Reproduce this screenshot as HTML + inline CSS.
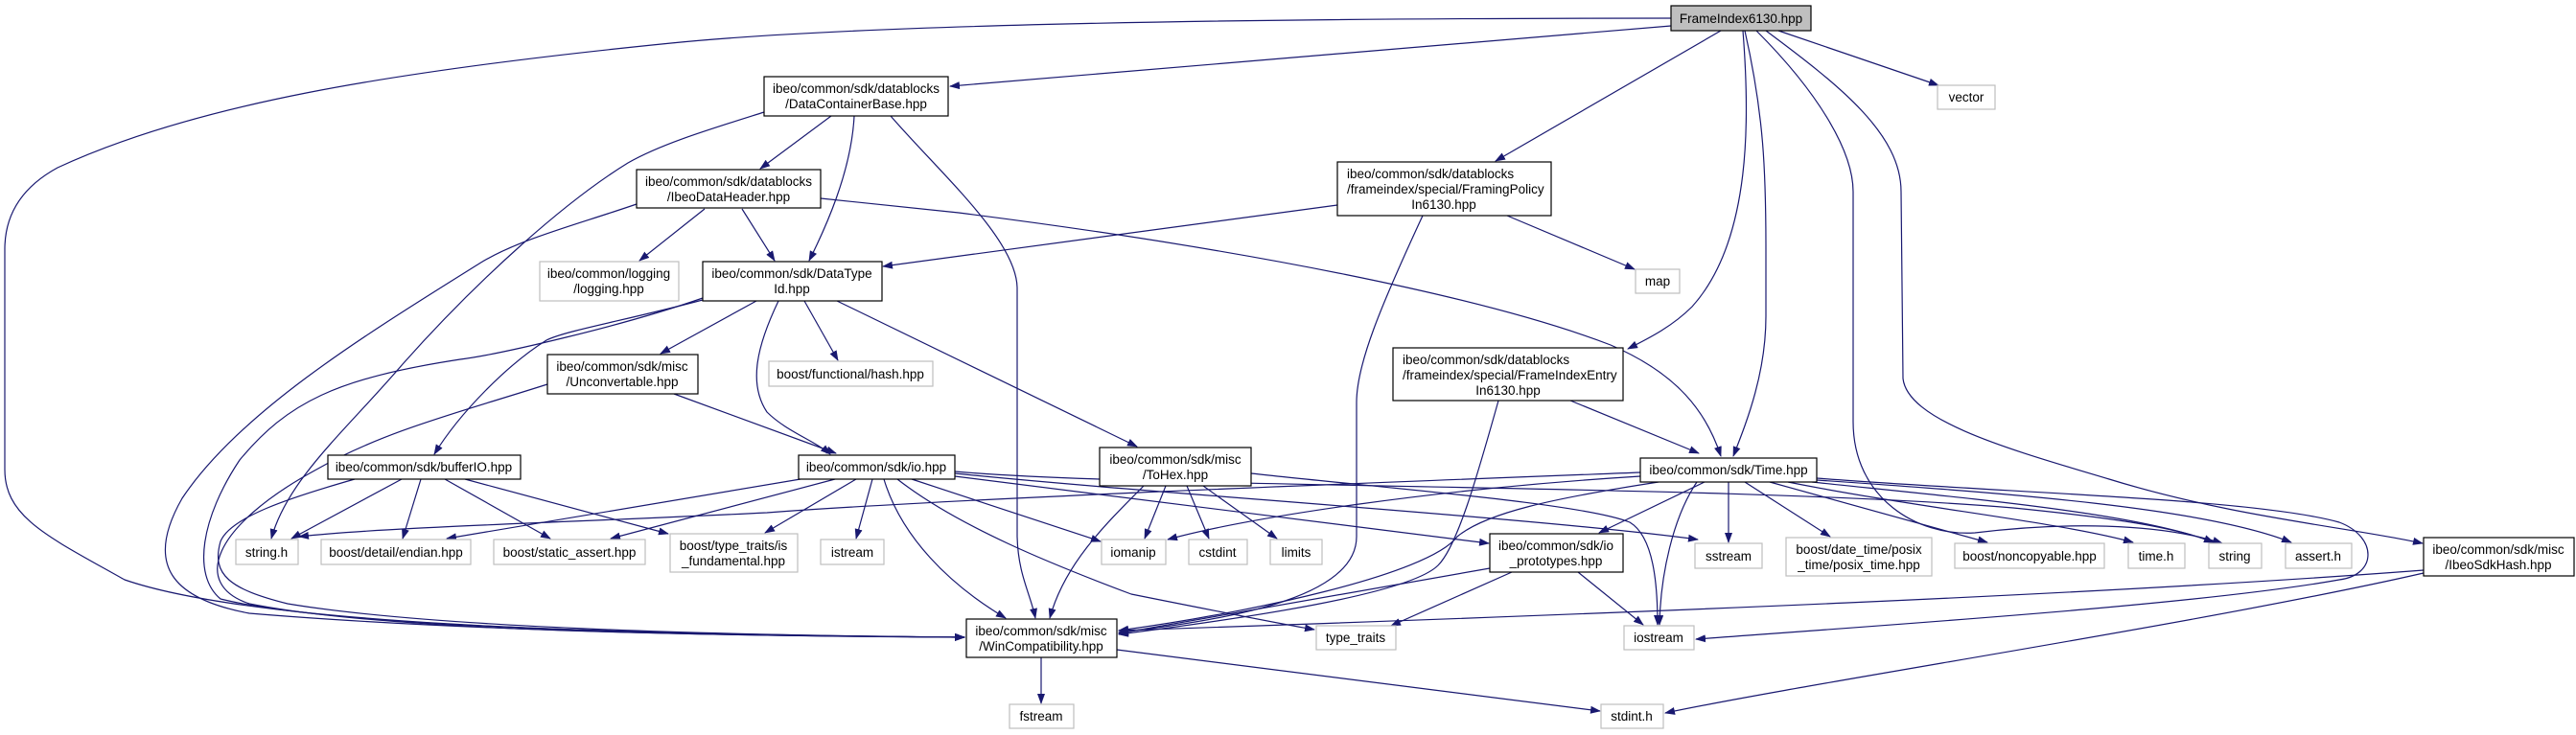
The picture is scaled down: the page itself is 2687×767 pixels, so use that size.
<!DOCTYPE html>
<html><head><meta charset="utf-8"><style>
html,body{margin:0;padding:0;background:#fff;}
svg{display:block;}
text{font-family:"Liberation Sans",Helvetica,Arial,sans-serif;font-size:13.5px;fill:#000;}
.e{fill:none;stroke:#191970;stroke-width:1.2;marker-end:url(#a);}
.n{fill:#fff;stroke:#000;stroke-width:1.2;}
.g{fill:#fff;stroke:#bfbfbf;stroke-width:1.2;}
</style></head><body>
<svg width="2687" height="767" viewBox="0 0 2687 767" xmlns="http://www.w3.org/2000/svg">
<defs><marker id="a" markerUnits="userSpaceOnUse" markerWidth="11" markerHeight="8" refX="10" refY="4" orient="auto"><path d="M0,0 L11,4 L0,8 z" fill="#191970"/></marker></defs>

<!-- edges from FrameIndex6130 -->
<path class="e" d="M1743,19 C1300,19 900,25 700,45 C400,75 200,110 60,175 Q5,205 5,260 L5,490 C5,540 50,560 130,605 C260,650 600,662 1006,665"/>
<path class="e" d="M1743,27 L991,90"/>
<path class="e" d="M1795,32 L1560,168"/>
<path class="e" d="M1818,32 C1825,120 1828,250 1765,320 C1745,340 1722,352 1698,364"/>
<path class="e" d="M1820,32 C1840,120 1842,180 1842,260 L1842,330 C1842,390 1822,440 1808,476"/>
<path class="e" d="M1832,32 C1900,100 1933,160 1933,200 L1933,440 C1933,520 2000,560 2060,556 C2150,545 2250,545 2318,567"/>
<path class="e" d="M1842,32 C1920,90 1983,140 1983,200 L1985,395 C1990,440 2100,470 2200,500 C2330,540 2450,550 2527,567"/>
<path class="e" d="M1855,32 L2022,89"/>

<!-- DataContainerBase -->
<path class="e" d="M867,121 L793,176"/>
<path class="e" d="M891,121 C888,180 860,240 844,272"/>
<path class="e" d="M929,121 C980,180 1060,250 1061,300 L1061,560 C1062,600 1075,620 1080,645"/>
<path class="e" d="M797,117 C740,135 690,150 655,170 C590,210 500,290 420,380 C360,450 300,500 283,562"/>

<!-- IbeoDataHeader -->
<path class="e" d="M735,218 L667,272"/>
<path class="e" d="M774,218 L808,272"/>
<path class="e" d="M856,207 L1000,222 C1300,260 1550,310 1680,360 C1750,390 1780,430 1795,476"/>
<path class="e" d="M664,213 C600,235 540,250 500,275 C380,350 250,430 190,520 C150,590 180,625 260,640 C500,660 800,664 1006,665"/>

<!-- FramingPolicy -->
<path class="e" d="M1395,214 L921,278"/>
<path class="e" d="M1572,225 L1705,281"/>
<path class="e" d="M1484,225 C1440,320 1415,380 1415,420 L1415,560 C1415,620 1300,645 1167,660"/>

<!-- FrameIndexEntry -->
<path class="e" d="M1638,418 L1772,473"/>
<path class="e" d="M1563,418 C1540,500 1520,570 1500,590 C1470,620 1300,645 1167,662"/>

<!-- DataTypeId -->
<path class="e" d="M789,314 L689,369"/>
<path class="e" d="M839,314 L874,376"/>
<path class="e" d="M812,314 C790,360 780,400 800,430 C820,450 850,460 866,474"/>
<path class="e" d="M873,314 L1186,466"/>
<path class="e" d="M733,313 C650,335 590,345 570,355 C530,380 480,430 453,474"/>
<path class="e" d="M733,311 C650,340 520,370 480,375 C350,395 300,420 250,480 C210,540 200,600 230,625 C350,655 700,662 1006,665"/>

<!-- Unconvertable -->
<path class="e" d="M703,411 L872,473"/>
<path class="e" d="M571,401 C480,430 400,450 330,490 C220,550 200,610 260,630 C400,658 700,663 1006,665"/>

<!-- bufferIO -->
<path class="e" d="M419,500 L304,562"/>
<path class="e" d="M439,500 L420,562"/>
<path class="e" d="M464,500 L574,562"/>
<path class="e" d="M485,500 L697,557"/>
<path class="e" d="M370,500 C300,520 240,540 230,565 C220,600 240,615 300,630 C450,655 750,663 1006,665"/>

<!-- io.hpp -->
<path class="e" d="M835,500 L466,562"/>
<path class="e" d="M871,500 L637,562"/>
<path class="e" d="M893,500 L798,556"/>
<path class="e" d="M910,500 L893,562"/>
<path class="e" d="M922,500 C940,560 990,610 1049,645"/>
<path class="e" d="M936,500 C1000,550 1100,590 1180,620 C1280,640 1330,650 1371,657"/>
<path class="e" d="M951,500 L1148,565"/>
<path class="e" d="M996,497 L1553,567"/>
<path class="e" d="M996,494 C1200,515 1600,540 1771,563"/>
<path class="e" d="M996,492 C1200,510 1800,505 2100,530 C2200,540 2270,550 2309,566"/>

<!-- ToHex -->
<path class="e" d="M1216,507 L1194,562"/>
<path class="e" d="M1238,507 L1261,562"/>
<path class="e" d="M1255,507 L1332,562"/>
<path class="e" d="M1193,507 C1150,550 1110,590 1095,645"/>
<path class="e" d="M1305,494 C1450,510 1650,525 1700,545 C1725,560 1729,610 1729,652"/>

<!-- Time.hpp -->
<path class="e" d="M1711,493 C1400,505 1000,520 800,535 C600,545 400,550 312,560"/>
<path class="e" d="M1711,497 C1500,510 1300,540 1218,563"/>
<path class="e" d="M1730,503 C1620,520 1550,535 1520,560 C1490,600 1300,640 1167,658"/>
<path class="e" d="M1778,503 L1668,556"/>
<path class="e" d="M1803,503 L1803,566"/>
<path class="e" d="M1770,503 C1745,540 1732,600 1731,652"/>
<path class="e" d="M1820,503 L1909,560"/>
<path class="e" d="M1846,503 L2073,566"/>
<path class="e" d="M1865,503 C2000,530 2150,545 2225,566"/>
<path class="e" d="M1890,503 C2050,520 2230,535 2309,566"/>
<path class="e" d="M1895,501 C2100,515 2300,530 2390,566"/>
<path class="e" d="M1895,499 C2100,515 2350,520 2440,545 C2480,560 2480,600 2440,605 C2300,630 2000,650 1769,667"/>

<!-- io_prototypes -->
<path class="e" d="M1554,593 L1167,661"/>
<path class="e" d="M1577,597 L1451,653"/>
<path class="e" d="M1646,597 L1714,652"/>

<!-- IbeoSdkHash -->
<path class="e" d="M2528,595 C2200,620 1700,640 1167,658"/>
<path class="e" d="M2528,598 C2300,650 1900,710 1737,744"/>

<!-- WinCompatibility -->
<path class="e" d="M1086,686 L1086,734"/>
<path class="e" d="M1165,678 L1669,742"/>

<!-- nodes -->
<rect x="1743" y="6" width="146" height="26" fill="#bfbfbf" stroke="#000" stroke-width="1.2"/>
<text x="1816" y="24" text-anchor="middle">FrameIndex6130.hpp</text>

<rect class="g" x="2021" y="89" width="60" height="25"/><text x="2051" y="106" text-anchor="middle">vector</text>
<rect class="g" x="1706" y="281" width="46" height="25"/><text x="1729" y="298" text-anchor="middle">map</text>

<rect class="n" x="1711" y="478" width="184" height="25"/><text x="1803" y="495" text-anchor="middle">ibeo/common/sdk/Time.hpp</text>

<rect class="g" x="1768" y="567" width="70" height="26"/><text x="1803" y="585" text-anchor="middle">sstream</text>
<rect class="g" x="1863" y="561" width="152" height="40"/><text x="1939" y="578" text-anchor="middle">boost/date_time/posix</text><text x="1939" y="594" text-anchor="middle">_time/posix_time.hpp</text>
<rect class="g" x="2039" y="567" width="156" height="26"/><text x="2117" y="585" text-anchor="middle">boost/noncopyable.hpp</text>
<rect class="g" x="2220" y="567" width="59" height="26"/><text x="2249" y="585" text-anchor="middle">time.h</text>
<rect class="g" x="2304" y="567" width="55" height="26"/><text x="2331" y="585" text-anchor="middle">string</text>
<rect class="g" x="2384" y="567" width="69" height="26"/><text x="2418" y="585" text-anchor="middle">assert.h</text>

<rect class="n" x="2528" y="561" width="157" height="40"/><text x="2606" y="578" text-anchor="middle">ibeo/common/sdk/misc</text><text x="2606" y="594" text-anchor="middle">/IbeoSdkHash.hpp</text>

<rect class="g" x="1694" y="653" width="73" height="25"/><text x="1730" y="670" text-anchor="middle">iostream</text>
<rect class="g" x="1670" y="735" width="65" height="25"/><text x="1702" y="752" text-anchor="middle">stdint.h</text>
<rect class="g" x="1053" y="735" width="67" height="25"/><text x="1086" y="752" text-anchor="middle">fstream</text>

<rect class="n" x="1008" y="646" width="157" height="40"/><text x="1086" y="663" text-anchor="middle">ibeo/common/sdk/misc</text><text x="1086" y="679" text-anchor="middle">/WinCompatibility.hpp</text>

<rect class="g" x="1373" y="653" width="83" height="25"/><text x="1414" y="670" text-anchor="middle">type_traits</text>

<rect class="n" x="1554" y="557" width="139" height="40"/><text x="1623" y="574" text-anchor="middle">ibeo/common/sdk/io</text><text x="1623" y="590" text-anchor="middle">_prototypes.hpp</text>

<rect class="g" x="1149" y="563" width="67" height="26"/><text x="1182" y="581" text-anchor="middle">iomanip</text>
<rect class="g" x="1240" y="563" width="61" height="26"/><text x="1270" y="581" text-anchor="middle">cstdint</text>
<rect class="g" x="1325" y="563" width="54" height="26"/><text x="1352" y="581" text-anchor="middle">limits</text>

<rect class="n" x="1147" y="467" width="158" height="40"/><text x="1226" y="484" text-anchor="middle">ibeo/common/sdk/misc</text><text x="1226" y="500" text-anchor="middle">/ToHex.hpp</text>

<rect class="n" x="1453" y="363" width="240" height="55"/>
<text x="1463" y="380">ibeo/common/sdk/datablocks</text>
<text x="1463" y="396">/frameindex/special/FrameIndexEntry</text>
<text x="1573" y="412" text-anchor="middle">In6130.hpp</text>

<rect class="n" x="1395" y="169" width="223" height="56"/>
<text x="1405" y="186">ibeo/common/sdk/datablocks</text>
<text x="1405" y="202">/frameindex/special/FramingPolicy</text>
<text x="1506" y="218" text-anchor="middle">In6130.hpp</text>

<rect class="n" x="797" y="80" width="192" height="41"/><text x="893" y="97" text-anchor="middle">ibeo/common/sdk/datablocks</text><text x="893" y="113" text-anchor="middle">/DataContainerBase.hpp</text>

<rect class="n" x="664" y="177" width="192" height="40"/><text x="760" y="194" text-anchor="middle">ibeo/common/sdk/datablocks</text><text x="760" y="210" text-anchor="middle">/IbeoDataHeader.hpp</text>

<rect class="g" x="563" y="273" width="145" height="41"/><text x="635" y="290" text-anchor="middle">ibeo/common/logging</text><text x="635" y="306" text-anchor="middle">/logging.hpp</text>

<rect class="n" x="733" y="273" width="187" height="41"/><text x="826" y="290" text-anchor="middle">ibeo/common/sdk/DataType</text><text x="826" y="306" text-anchor="middle">Id.hpp</text>

<rect class="g" x="802" y="377" width="171" height="26"/><text x="887" y="395" text-anchor="middle">boost/functional/hash.hpp</text>

<rect class="n" x="571" y="370" width="157" height="41"/><text x="649" y="387" text-anchor="middle">ibeo/common/sdk/misc</text><text x="649" y="403" text-anchor="middle">/Unconvertable.hpp</text>

<rect class="n" x="342" y="475" width="201" height="25"/><text x="442" y="492" text-anchor="middle">ibeo/common/sdk/bufferIO.hpp</text>
<rect class="n" x="833" y="475" width="163" height="25"/><text x="914" y="492" text-anchor="middle">ibeo/common/sdk/io.hpp</text>

<rect class="g" x="246" y="563" width="65" height="26"/><text x="278" y="581" text-anchor="middle">string.h</text>
<rect class="g" x="335" y="563" width="156" height="26"/><text x="413" y="581" text-anchor="middle">boost/detail/endian.hpp</text>
<rect class="g" x="515" y="563" width="158" height="26"/><text x="594" y="581" text-anchor="middle">boost/static_assert.hpp</text>
<rect class="g" x="699" y="557" width="133" height="40"/><text x="765" y="574" text-anchor="middle">boost/type_traits/is</text><text x="765" y="590" text-anchor="middle">_fundamental.hpp</text>
<rect class="g" x="856" y="563" width="66" height="26"/><text x="889" y="581" text-anchor="middle">istream</text>
</svg>
</body></html>
